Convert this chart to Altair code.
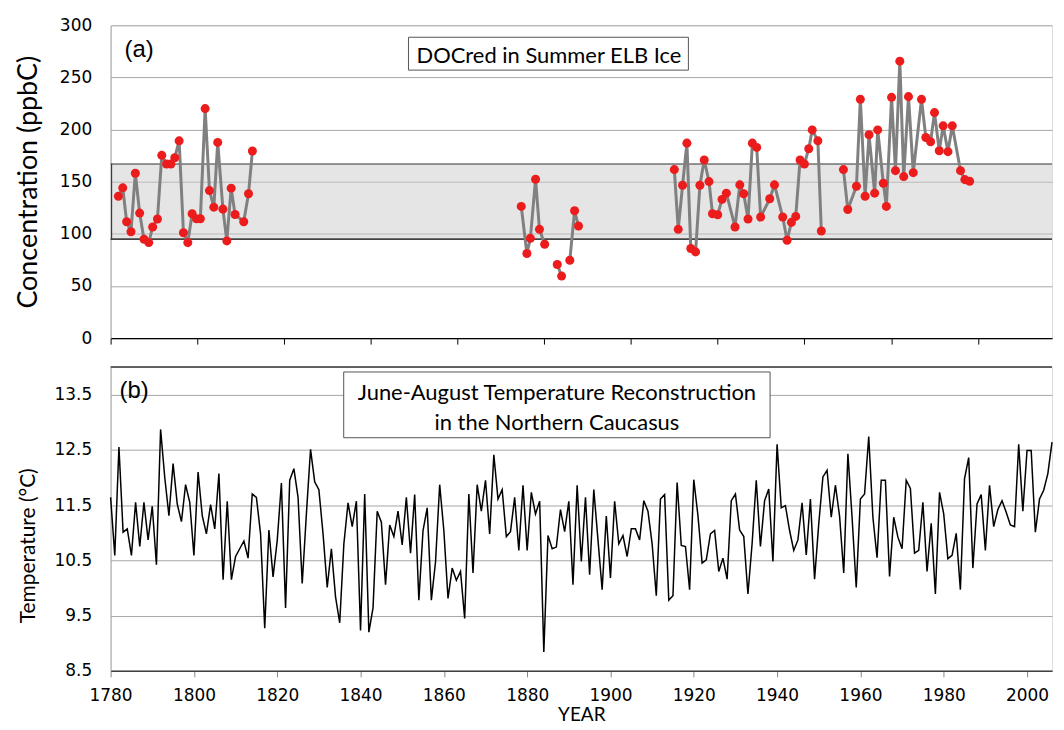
import altair as alt
import pandas as pd

# ---------------- data ----------------
# Panel (b): June-August temperature reconstruction, one value per year 1780-2006
temp_years = list(range(1780, 2007))
temp_values = [
    11.64, 10.59, 12.55, 11.01, 11.07, 10.59, 11.55, 10.75, 11.55, 10.87,  # 1780s
    11.48, 10.42, 12.87, 12.00, 11.31, 12.25, 11.52, 11.20, 11.87, 11.55,  # 1790s
    10.59, 12.10, 11.31, 10.98, 11.51, 11.07, 12.07, 10.15, 11.57, 10.15,  # 1800s
    10.57, 10.71, 10.85, 10.54, 11.70, 11.64, 10.98, 9.27, 11.05, 10.20,   # 1810s
    10.86, 11.90, 9.64, 11.95, 12.16, 11.64, 10.08, 11.34, 12.51, 11.92,   # 1820s
    11.78, 10.98, 10.01, 10.71, 9.84, 9.37, 10.80, 11.54, 11.11, 11.57,    # 1830s
    9.23, 11.70, 9.20, 9.64, 11.39, 11.19, 10.06, 11.14, 10.93, 11.39,     # 1840s
    10.78, 11.64, 10.63, 11.69, 9.78, 11.04, 11.45, 9.78, 10.47, 11.87,    # 1850s
    11.04, 9.81, 10.36, 10.14, 10.30, 9.45, 11.70, 10.27, 11.87, 11.39,    # 1860s
    11.95, 10.98, 12.41, 11.61, 11.78, 10.93, 11.02, 11.64, 10.68, 11.86,  # 1870s
    10.68, 11.73, 11.34, 11.57, 8.84, 10.95, 10.71, 10.74, 11.42, 11.02,   # 1880s
    11.57, 10.06, 11.86, 10.48, 11.64, 10.24, 11.78, 10.87, 9.97, 11.30,   # 1890s
    10.18, 11.57, 10.80, 10.95, 10.57, 11.07, 11.07, 10.87, 11.58, 11.39,  # 1900s
    10.80, 9.86, 11.61, 11.69, 9.78, 9.86, 11.91, 10.77, 10.75, 9.97,      # 1910s
    11.96, 11.31, 10.45, 10.51, 10.98, 11.04, 10.30, 10.54, 10.16, 11.58,  # 1920s
    11.70, 11.05, 10.93, 9.89, 10.80, 11.95, 10.75, 11.58, 11.79, 10.48,   # 1930s
    12.60, 11.45, 11.49, 11.04, 10.68, 10.87, 11.54, 10.60, 11.61, 10.16,  # 1940s
    11.16, 12.01, 12.13, 11.28, 11.86, 11.30, 10.27, 12.43, 11.28, 10.01,  # 1950s
    11.61, 11.70, 12.74, 11.28, 10.55, 11.95, 11.95, 10.21, 11.28, 10.92,  # 1960s
    10.71, 11.95, 11.80, 10.63, 10.68, 11.55, 10.30, 11.17, 9.89, 11.73,   # 1970s
    11.34, 10.53, 10.59, 10.99, 9.97, 11.98, 12.36, 10.36, 11.52, 11.69,   # 1980s
    10.68, 11.86, 11.11, 11.42, 11.58, 11.37, 11.14, 11.11, 12.60, 11.39,  # 1990s
    12.49, 12.49, 11.01, 11.61, 11.77, 12.07, 12.64,                       # 2000s
]

# Panel (a): DOCred in summer ELB ice (ppbC); seg = connected runs of the line
doc_years = [
    1781.8, 1782.8, 1783.7, 1784.7, 1785.7, 1786.7, 1787.7, 1788.8, 1789.7, 1790.8,
    1791.8, 1792.9, 1793.9, 1794.8, 1795.8, 1796.8, 1797.8, 1798.8, 1799.8, 1800.7,
    1801.8, 1802.8, 1803.8, 1804.7, 1805.9, 1806.8, 1807.8, 1808.7, 1810.7, 1811.8,
    1812.7,
    1874.7, 1876.0, 1876.8, 1878.0, 1878.9, 1880.1,
    1883.0, 1884.0,
    1885.9, 1887.0, 1887.9,
    1910.0, 1910.9, 1911.9, 1912.9, 1913.8, 1914.9, 1915.9, 1916.9, 1918.0, 1918.8,
    1920.0, 1921.0, 1922.0, 1924.0, 1925.1, 1926.0, 1927.0, 1928.0, 1929.0, 1929.9,
    1932.0, 1933.1, 1935.0, 1936.0, 1937.0, 1938.0, 1939.0, 1940.0, 1941.0, 1941.8,
    1943.1, 1943.9,
    1949.0, 1950.0, 1952.0, 1952.9, 1954.0, 1954.9, 1956.2, 1956.9, 1958.2, 1958.9,
    1960.1, 1961.0, 1962.0, 1962.9, 1964.0, 1965.1, 1967.0, 1968.0, 1969.1, 1970.0,
    1971.1, 1972.0, 1973.1, 1974.1, 1976.0, 1977.0, 1978.1,
]
doc_values = [
    136.1, 144.1, 111.6, 102.0, 158.1, 119.9, 94.8, 91.6, 106.6, 114.2,
    175.3, 167.0, 167.0, 173.0, 189.2, 101.1, 91.6, 119.3, 114.5, 114.5,
    220.1, 141.5, 125.6, 187.7, 123.7, 93.2, 143.8, 118.6, 111.6, 138.4,
    179.4,
    126.3, 81.1, 95.7, 152.4, 104.3, 90.0,
    70.6, 59.5,
    74.7, 122.1, 107.5,
    161.6, 104.3, 146.6, 187.0, 85.9, 82.7, 146.6, 170.8, 150.1, 119.3,
    118.3, 133.0, 139.0, 106.6, 147.0, 138.4, 114.2, 187.0, 182.9, 116.1,
    133.6, 147.0, 116.1, 93.8, 111.0, 116.7, 170.8, 167.0, 181.6, 199.7,
    189.2, 102.7,
    161.6, 123.4, 145.7, 229.0, 136.1, 195.0, 139.0, 199.7, 148.5, 126.3,
    230.9, 160.6, 265.6, 154.9, 231.6, 158.7, 229.0, 192.4, 188.3, 216.3,
    179.7, 203.6, 178.8, 203.6, 160.6, 152.0, 150.4,
]
doc_segs = (["s1"] * 31 + ["s2a"] * 6 + ["s2b"] * 2 + ["s2c"] * 3
            + ["s3"] * 32 + ["s4"] * 27)

band_low = [95]
band_high = [167]

top_ticks = [1780, 1800, 1820, 1840, 1860, 1880, 1900, 1920, 1940, 1960, 1980]
bot_ticks = [1780, 1800, 1820, 1840, 1860, 1880, 1900, 1920, 1940, 1960, 1980, 2000]
conc_ticks = [0, 50, 100, 150, 200, 250, 300]
temp_ticks = [8.5, 9.5, 10.5, 11.5, 12.5, 13.5]

title_a = ["DOCred in Summer ELB Ice"]
title_b1 = ["June-August Temperature Reconstruction"]
title_b2 = ["in the Northern Caucasus"]

# ---------------- layout / style ----------------
W = 945
TOP_H = 314
BOT_H = 305
GRID = "#a6a6a6"
TITLE_FONT = "Lato"
NUM_FONT = "DejaVu Sans"

doc_df = pd.DataFrame({"year": doc_years, "doc": doc_values, "seg": doc_segs})
temp_df = pd.DataFrame({"year": temp_years, "temp": temp_values})
band_df = pd.DataFrame({"lo": band_low, "hi": band_high})

conc_scale = alt.Scale(domain=[0, 300], nice=False)

x_top = alt.X(
    "year:Q",
    scale=alt.Scale(domain=[1780, 1997.1], nice=False, zero=False),
    axis=alt.Axis(values=top_ticks, labels=False, ticks=True, tickSize=6,
                  tickColor="#000", domainColor="#000", domainWidth=1.2,
                  grid=False, title=None),
)
y_top = alt.Y(
    "doc:Q",
    scale=conc_scale,
    axis=alt.Axis(values=conc_ticks, grid=True, gridColor=GRID, gridWidth=1,
                  domainColor=GRID, ticks=False, tickSize=0, labelPadding=19,
                  labelFont=NUM_FONT, labelFontSize=17, labelColor="#000",
                  title="Concentration (ppbC)", titleFont=TITLE_FONT,
                  titleFontSize=27, titleFontWeight="normal", titleColor="#000",
                  titlePadding=13, minExtent=55, maxExtent=55),
)

band_fill = alt.Chart(band_df).mark_rect(fill="#cccccc", fillOpacity=0.5).encode(
    x=alt.value(0), x2=alt.value(W),
    y=alt.Y("lo:Q", scale=conc_scale), y2="hi:Q",
)
band_top = alt.Chart(band_df).mark_rule(color="#333333", strokeWidth=1.1).encode(
    x=alt.value(0), x2=alt.value(W), y=alt.Y("hi:Q", scale=conc_scale)
)
band_bot = alt.Chart(band_df).mark_rule(color="#444444", strokeWidth=1.8).encode(
    x=alt.value(0), x2=alt.value(W), y=alt.Y("lo:Q", scale=conc_scale)
)
band_left = alt.Chart(band_df).mark_rule(color="#333333", strokeWidth=1.1).encode(
    x=alt.value(1), y=alt.Y("lo:Q", scale=conc_scale), y2="hi:Q"
)

doc_line = alt.Chart(doc_df).mark_line(color="#808080", strokeWidth=3).encode(
    x=x_top, y=y_top, detail="seg:N"
)
doc_pts = alt.Chart(doc_df).mark_circle(color="#ec1c1c", size=82, opacity=1).encode(
    x=alt.X("year:Q"), y=alt.Y("doc:Q")
)

ta_df = pd.DataFrame({"t": title_a})
ta_box = alt.Chart(ta_df).mark_rect(fill="white", stroke="#555555", strokeWidth=1).encode(
    x=alt.value(299), x2=alt.value(580), y=alt.value(12), y2=alt.value(45)
)
ta_txt = alt.Chart(ta_df).mark_text(
    font=TITLE_FONT, fontSize=22, align="center", baseline="alphabetic", color="#000"
).encode(x=alt.value(440), y=alt.value(38), text="t:N")
lab_a = alt.Chart(pd.DataFrame({"t": ["(a)"]})).mark_text(
    font="Liberation Sans", fontSize=24, align="left", baseline="alphabetic", color="#000"
).encode(x=alt.value(14), y=alt.value(32), text="t:N")

top = alt.layer(band_fill, band_top, band_bot, band_left, doc_line, doc_pts,
                ta_box, ta_txt, lab_a).properties(width=W, height=TOP_H)

# bottom panel
x_bot = alt.X(
    "year:Q",
    scale=alt.Scale(domain=[1780, 2006.0], nice=False, zero=False),
    axis=alt.Axis(values=bot_ticks, format="d", labelFont=NUM_FONT, labelFontSize=17,
                  labelColor="#000", ticks=True, tickSize=6, tickColor="#888888",
                  domainColor="#404040", domainWidth=1.5, grid=False, labelPadding=11,
                  labelFlush=False, title="YEAR", titleFont=TITLE_FONT,
                  titleFontSize=19, titleFontWeight="normal", titleColor="#000",
                  titlePadding=2),
)
y_bot = alt.Y(
    "temp:Q",
    scale=alt.Scale(domain=[8.5, 14.0], nice=False, zero=False),
    axis=alt.Axis(values=temp_ticks, format=".1f", grid=True, gridColor=GRID,
                  gridWidth=1, domainColor=GRID, ticks=False, tickSize=0,
                  labelPadding=19, labelFont=NUM_FONT, labelFontSize=17,
                  labelColor="#000", title="Temperature (°C)", titleFont=TITLE_FONT,
                  titleFontSize=21, titleFontWeight="normal", titleColor="#000",
                  titlePadding=17, titleY=179, minExtent=55, maxExtent=55),
)

temp_line = alt.Chart(temp_df).mark_line(color="#000000", strokeWidth=1.5).encode(
    x=x_bot, y=y_bot
)

tb_df = pd.DataFrame({"t1": title_b1, "t2": title_b2})
top_rule = alt.Chart(tb_df).mark_rule(color="#333333", strokeWidth=1.5).encode(
    x=alt.value(0), x2=alt.value(W), y=alt.value(0)
)
tb_box = alt.Chart(tb_df).mark_rect(fill="white", stroke="#555555", strokeWidth=1).encode(
    x=alt.value(234), x2=alt.value(662), y=alt.value(5), y2=alt.value(71)
)
tb_txt1 = alt.Chart(tb_df).mark_text(
    font=TITLE_FONT, fontSize=22, align="center", baseline="alphabetic", color="#000"
).encode(x=alt.value(448), y=alt.value(33), text="t1:N")
tb_txt2 = alt.Chart(tb_df).mark_text(
    font=TITLE_FONT, fontSize=22, align="center", baseline="alphabetic", color="#000"
).encode(x=alt.value(448), y=alt.value(63), text="t2:N")
lab_b = alt.Chart(pd.DataFrame({"t": ["(b)"]})).mark_text(
    font="Liberation Sans", fontSize=24, align="left", baseline="alphabetic", color="#000"
).encode(x=alt.value(9), y=alt.value(31), text="t:N")

bottom = alt.layer(temp_line, top_rule, tb_box, tb_txt1, tb_txt2, lab_b).properties(
    width=W, height=BOT_H
)

chart = alt.vconcat(top, bottom, spacing=18).properties(
    padding={"left": 6, "top": 6, "right": 0, "bottom": 0}
).configure_view(stroke=None).configure(background="white")

chart.save("out.html", embed_options={"renderer": "svg", "actions": False})
